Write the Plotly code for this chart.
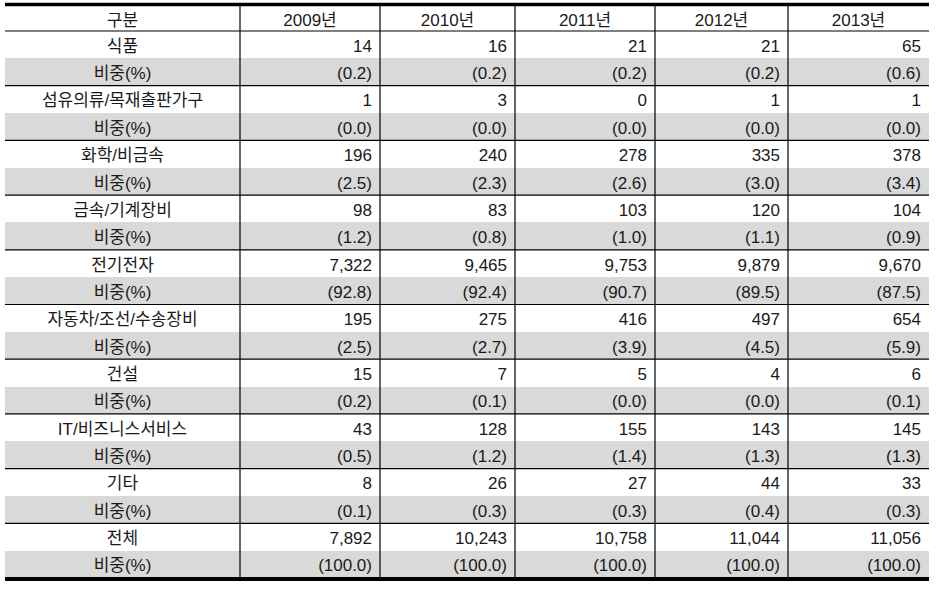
import plotly.graph_objects as go

years = ['2009년', '2010년', '2011년', '2012년', '2013년']
categories = ['식품', '섬유의류/목재출판가구', '화학/비금속', '금속/기계장비', '전기전자',
              '자동차/조선/수송장비', '건설', 'IT/비즈니스서비스', '기타', '전체']
counts = [
    [14, 16, 21, 21, 65],
    [1, 3, 0, 1, 1],
    [196, 240, 278, 335, 378],
    [98, 83, 103, 120, 104],
    [7322, 9465, 9753, 9879, 9670],
    [195, 275, 416, 497, 654],
    [15, 7, 5, 4, 6],
    [43, 128, 155, 143, 145],
    [8, 26, 27, 44, 33],
    [7892, 10243, 10758, 11044, 11056],
]
shares = [
    [0.2, 0.2, 0.2, 0.2, 0.6],
    [0.0, 0.0, 0.0, 0.0, 0.0],
    [2.5, 2.3, 2.6, 3.0, 3.4],
    [1.2, 0.8, 1.0, 1.1, 0.9],
    [92.8, 92.4, 90.7, 89.5, 87.5],
    [2.5, 2.7, 3.9, 4.5, 5.9],
    [0.2, 0.1, 0.0, 0.0, 0.1],
    [0.5, 1.2, 1.4, 1.3, 1.3],
    [0.1, 0.3, 0.3, 0.4, 0.3],
    [100.0, 100.0, 100.0, 100.0, 100.0],
]
first_header = '구분'
share_label = '비중(%)'

# ---- layout constants (pixels) ----
W, H = 936, 595
left, right = 5, 929
top, bottom = 5, 578
header_h = 26
n_rows = len(categories) * 2
row_h = (bottom - top - header_h) / n_rows
col_px = [235, 140, 135, 140, 133, 141]

# build column-wise cell values
col0 = []
for c in categories:
    col0 += [c, share_label]
cols = [col0]
for j in range(len(years)):
    col = []
    for i in range(len(categories)):
        col.append(f"{counts[i][j]:,}")
        col.append(f"({shares[i][j]:.1f})")
    cols.append(col)

gray = '#d9d9d9'
row_fill = []
for i in range(len(categories)):
    row_fill += ['white', gray]
fills = [row_fill] * len(cols)

font_fam = 'Liberation Sans, Arial, Noto Sans CJK KR, sans-serif'
txt_col = '#1a1a1a'

fig = go.Figure(go.Table(
    columnwidth=col_px,
    header=dict(values=[first_header] + years,
                align='center',
                height=header_h,
                fill_color='white',
                line=dict(width=0, color='white'),
                font=dict(family=font_fam, size=17, color=txt_col)),
    cells=dict(values=cols,
               align=['center'] + ['right'] * len(years),
               height=row_h,
               fill_color=fills,
               line=dict(width=0, color='white'),
               font=dict(family=font_fam, size=17, color=txt_col)),
    domain=dict(x=[0, 1], y=[0, 1]),
))

pw = right - left
ph = bottom - top

def px_y(p):
    return (bottom - p) / ph

shapes = []
# vertical lines
acc = left
for w in col_px[:-1]:
    acc += w
    xp = (acc - left) / pw
    shapes.append(dict(type='line', xref='paper', yref='paper', x0=xp, x1=xp,
                       y0=px_y(top), y1=px_y(bottom), line=dict(color='black', width=1.2)))
# header bottom line
yb = px_y(top + header_h)
shapes.append(dict(type='line', xref='paper', yref='paper', x0=0, x1=1, y0=yb, y1=yb,
                   line=dict(color='black', width=1.2)))
# group separators
for g in range(1, len(categories)):
    yy = px_y(top + header_h + g * 2 * row_h)
    shapes.append(dict(type='line', xref='paper', yref='paper', x0=0, x1=1, y0=yy, y1=yy,
                       line=dict(color='black', width=1.2)))
# thick top & bottom
shapes.append(dict(type='line', xref='paper', yref='paper', x0=0, x1=1,
                   y0=px_y(4.5), y1=px_y(4.5), line=dict(color='black', width=3.5)))
shapes.append(dict(type='line', xref='paper', yref='paper', x0=0, x1=1,
                   y0=px_y(579), y1=px_y(579), line=dict(color='black', width=4)))

fig.update_layout(width=W, height=H, shapes=shapes,
                  margin=dict(l=left, r=W - right, t=top, b=H - bottom),
                  paper_bgcolor='white', plot_bgcolor='white')
fig.write_html("out.html", config={'displayModeBar': False},
               post_script="document.body.style.margin='0';document.body.style.overflow='hidden';")
